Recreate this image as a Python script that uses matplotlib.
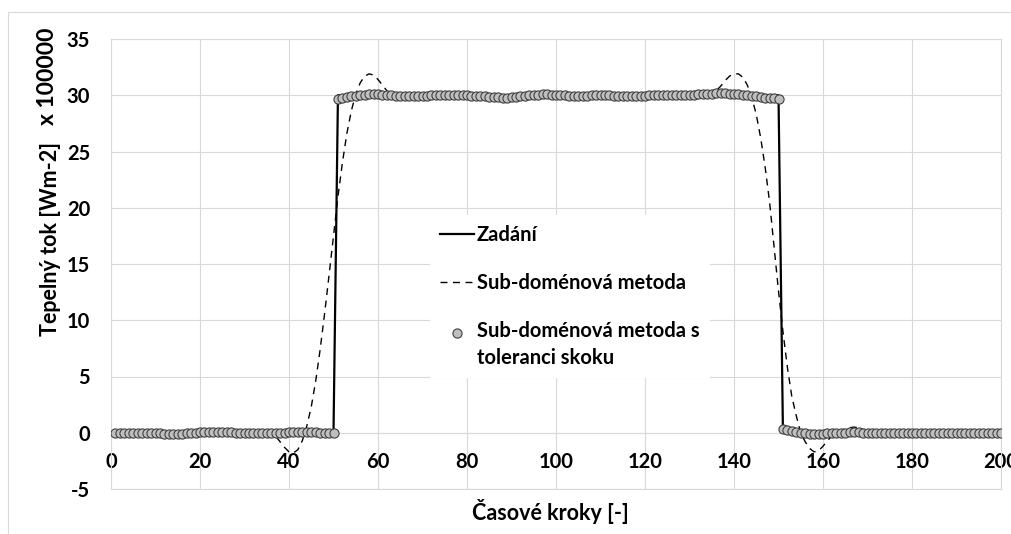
import numpy as np
import matplotlib
matplotlib.use('Agg')
import matplotlib.pyplot as plt

# time steps 1..200
steps = np.arange(1, 201)

# zadani (prescribed heat flux, x 100000)
zadani = [
    0, 0, 0, 0, 0, 0, 0, 0, 0, 0, 0, 0, 0, 0, 0, 0, 0, 0, 0, 0, 0, 0, 0, 0, 0,
    0, 0, 0, 0, 0, 0, 0, 0, 0, 0, 0, 0, 0, 0, 0, 0, 0, 0, 0, 0, 0, 0, 0, 0, 0,
    30, 30, 30, 30, 30, 30, 30, 30, 30, 30, 30, 30, 30, 30, 30, 30, 30, 30, 30, 30, 30, 30, 30, 30, 30,
    30, 30, 30, 30, 30, 30, 30, 30, 30, 30, 30, 30, 30, 30, 30, 30, 30, 30, 30, 30, 30, 30, 30, 30, 30,
    30, 30, 30, 30, 30, 30, 30, 30, 30, 30, 30, 30, 30, 30, 30, 30, 30, 30, 30, 30, 30, 30, 30, 30, 30,
    30, 30, 30, 30, 30, 30, 30, 30, 30, 30, 30, 30, 30, 30, 30, 30, 30, 30, 30, 30, 30, 30, 30, 30, 30,
    0, 0, 0, 0, 0, 0, 0, 0, 0, 0, 0, 0, 0, 0, 0, 0, 0, 0, 0, 0, 0, 0, 0, 0, 0,
    0, 0, 0, 0, 0, 0, 0, 0, 0, 0, 0, 0, 0, 0, 0, 0, 0, 0, 0, 0, 0, 0, 0, 0, 0,
]

# sub-domain method
subdomena = [
    0.0, 0.0, 0.0, 0.0, 0.0, 0.0, 0.0, 0.0, 0.0, 0.0,
    0.0, 0.0, 0.0, 0.0, 0.0, 0.0, 0.0, 0.0, 0.0, 0.0,
    0.0, 0.0, 0.0, 0.0, 0.0, 0.0, 0.0, 0.0, 0.0, 0.0,
    0.05, 0.1, 0.1, 0.1, 0.05, -0.05, -0.3, -0.8, -1.3, -1.7,
    -1.8, -1.5, -0.7, 0.6, 2.3, 4.6, 7.4, 10.6, 14.0, 17.5,
    21.0, 24.0, 26.6, 28.6, 30.1, 31.1, 31.7, 31.9, 31.8, 31.4,
    30.9, 30.4, 30.1, 29.95, 29.9, 29.9, 29.95, 30.0, 30.0, 30.0,
    30.0, 30.0, 30.0, 30.0, 30.0, 30.0, 30.0, 30.0, 30.0, 30.0,
    30.0, 30.0, 30.0, 30.0, 30.0, 30.0, 30.0, 30.0, 30.0, 30.0,
    30.0, 30.0, 30.0, 30.0, 30.0, 30.0, 30.0, 30.0, 30.0, 30.0,
    30.0, 30.0, 30.0, 30.0, 30.0, 30.0, 30.0, 30.0, 30.0, 30.0,
    30.0, 30.0, 30.0, 30.0, 30.0, 30.0, 30.0, 30.0, 30.0, 30.0,
    30.0, 30.0, 30.0, 30.0, 30.0, 30.0, 30.0, 30.0, 30.0, 30.0,
    30.0, 30.0, 30.0, 30.05, 30.15, 30.4, 30.8, 31.3, 31.7, 31.9,
    31.9, 31.6, 30.9, 29.8, 28.3, 26.2, 23.6, 20.5, 16.5, 12.6,
    9.0, 5.8, 3.2, 1.5, 0.0, -0.8, -1.4, -1.7, -1.6, -1.2,
    -0.7, -0.3, 0.0, 0.2, 0.35, 0.45, 0.5, 0.45, 0.3, 0.15,
    0.05, 0.0, 0.0, 0.0, 0.0, 0.0, 0.0, 0.0, 0.0, 0.0,
    0.0, 0.0, 0.0, 0.0, 0.0, 0.0, 0.0, 0.0, 0.0, 0.0,
    0.0, 0.0, 0.0, 0.0, 0.0, 0.0, 0.0, 0.0, 0.0, 0.0,
]

# sub-domain method with jump tolerance
tolerance = [
    0.0, 0.0, 0.0, 0.0, 0.0, 0.0, 0.0, -0.05, -0.05, -0.05,
    -0.05, -0.1, -0.1, -0.1, -0.1, -0.1, -0.05, -0.05, 0.0, 0.05,
    0.05, 0.1, 0.1, 0.1, 0.1, 0.05, 0.05, 0.0, 0.0, 0.0,
    0.0, -0.05, -0.05, -0.05, -0.05, -0.05, -0.05, 0.0, 0.0, 0.05,
    0.05, 0.1, 0.1, 0.1, 0.05, 0.05, 0.0, 0.0, 0.0, 0.0,
    29.7, 29.8, 29.85, 29.9, 29.95, 30.0, 30.05, 30.1, 30.1, 30.1,
    30.05, 30.0, 30.0, 29.95, 29.95, 29.9, 29.9, 29.9, 29.9, 29.95,
    29.95, 30.0, 30.0, 30.0, 30.05, 30.05, 30.05, 30.0, 30.0, 30.0,
    29.95, 29.95, 29.9, 29.9, 29.85, 29.85, 29.85, 29.8, 29.8, 29.85,
    29.85, 29.9, 29.95, 30.0, 30.05, 30.05, 30.1, 30.1, 30.05, 30.05,
    30.0, 30.0, 29.95, 29.95, 29.95, 29.95, 29.95, 30.0, 30.0, 30.0,
    30.0, 30.0, 29.95, 29.95, 29.9, 29.9, 29.9, 29.9, 29.95, 29.95,
    30.0, 30.0, 30.0, 30.0, 30.0, 30.0, 30.0, 30.0, 30.0, 30.05,
    30.05, 30.1, 30.1, 30.15, 30.15, 30.2, 30.2, 30.2, 30.15, 30.1,
    30.1, 30.05, 30.0, 29.95, 29.9, 29.85, 29.8, 29.8, 29.75, 29.7,
    0.35, 0.25, 0.15, 0.05, 0.0, -0.05, -0.1, -0.1, -0.1, -0.1,
    -0.05, -0.05, 0.0, 0.0, 0.0, 0.05, 0.05, 0.05, 0.0, 0.0,
    0.0, 0.0, 0.0, 0.0, 0.0, 0.0, 0.0, 0.0, 0.0, 0.0,
    0.0, 0.0, 0.0, 0.0, 0.0, 0.0, 0.0, 0.0, 0.0, 0.0,
    0.0, 0.0, 0.0, 0.0, 0.0, 0.0, 0.0, 0.0, 0.0, 0.0,
]

x_ticks = np.arange(0, 201, 20)
y_ticks = np.arange(-5, 36, 5)

plt.rcParams['font.family'] = ['Lato', 'DejaVu Sans']
plt.rcParams['font.weight'] = 'bold'
plt.rcParams['axes.unicode_minus'] = False

grid_col = '#d9d9d9'
W, H = 1012, 534

fig = plt.figure(figsize=(W / 100, H / 100), dpi=100)
ax = fig.add_axes([111 / W, 1 - 489 / H, 890 / W, 450 / H])

ax.plot(steps, zadani, color='black', lw=1.6, label='Zadání', zorder=3)
ax.plot(steps, subdomena, color='black', lw=1.0, ls=(0, (5, 4)),
        label='Sub-doménová metoda', zorder=4)
ax.plot(steps, tolerance, ls='none', marker='o', ms=6.6, mfc='#bfbfbf',
        mec='#404040', mew=0.8, label='Sub-doménová metoda s\ntoleranci skoku', zorder=5)

ax.set_xlim(0, 200)
ax.set_ylim(-5, 35)
ax.set_xticks(x_ticks)
ax.set_yticks(y_ticks)
ax.grid(True, color=grid_col, lw=0.8)
ax.set_axisbelow(True)

for side in ['left', 'right', 'top', 'bottom']:
    ax.spines[side].set_color(grid_col)
    ax.spines[side].set_linewidth(0.8)
ax.spines['bottom'].set_position(('data', 0))
ax.plot([0, 1], [0, 0], transform=ax.transAxes, color=grid_col, lw=0.8, clip_on=False)

ax.tick_params(axis='both', length=0, labelsize=14.5)
ax.tick_params(axis='x', pad=13.5)
ax.tick_params(axis='y', pad=15)
for lbl in ax.get_xticklabels() + ax.get_yticklabels():
    lbl.set_fontweight('bold')

leg = ax.legend(loc='upper left', bbox_to_anchor=(0.358, 0.609), borderaxespad=0,
                frameon=True, fancybox=False, framealpha=1, facecolor='white',
                edgecolor='none', borderpad=0.5, labelspacing=1.4,
                handlelength=1.7, handletextpad=0.15,
                prop={'size': 14.5, 'weight': 'bold'})
leg.get_texts()[2].set_linespacing(1.4)
# put the marker of the two-line entry next to its first line
mk = leg.legend_handles[2]
mk.set_ydata(np.asarray(mk.get_ydata()) + 9)

fig.text(51 / W, 1 - 239 / H, 'Tepelný tok [Wm-2]', rotation=90, ha='center',
         va='center', fontsize=15.5, fontweight='bold')
fig.text(47 / W, 1 - 76 / H, 'x 100000', rotation=90, ha='center',
         va='center', fontsize=16.5, fontweight='bold')
fig.text(550 / W, 1 - 512 / H, 'Časové kroky [-]', ha='center', va='center',
         fontsize=15.5, fontweight='bold')

# chart area border
fig.add_artist(plt.Rectangle((8 / W, -0.05), 1.1, 1 - 12 / H + 0.05, fill=False,
                             edgecolor=grid_col, lw=0.8, transform=fig.transFigure))

fig.savefig('out.png', dpi=100)
